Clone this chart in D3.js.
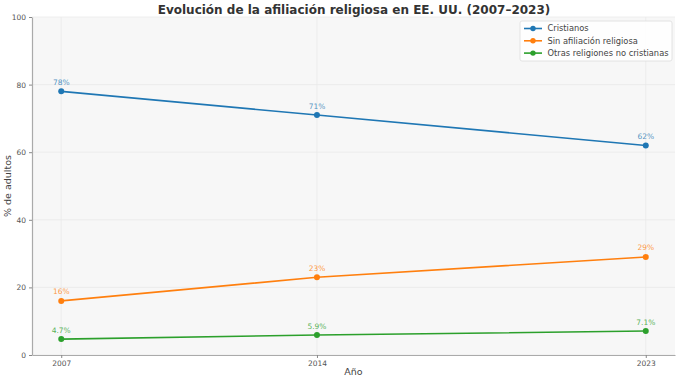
<!DOCTYPE html>
<html>
<head>
<meta charset="utf-8">
<script src="https://cdn.jsdelivr.net/npm/d3@7"></script>
<style>
  body { margin: 0; background: #fff; }
  text { font-family: "DejaVu Sans", sans-serif; }
</style>
</head>
<body>
<div id="chart"></div>
<script>
// Data
const years = [2007, 2014, 2023];
const seriesNames = ["Cristianos", "Sin afiliación religiosa", "Otras religiones no cristianas"];
const cristianos = [78, 71, 62];
const sinAfiliacion = [16, 23, 29];
const otras = [4.7, 5.9, 7.1];
const labelsCristianos = ["78%", "71%", "62%"];
const labelsSin = ["16%", "23%", "29%"];
const labelsOtras = ["4.7%", "5.9%", "7.1%"];
const yTicks = [0, 20, 40, 60, 80, 100];
const colors = ["#1f77b4", "#ff7f0e", "#2ca02c"];

const series = [
  {name: seriesNames[0], values: cristianos, labels: labelsCristianos, color: colors[0]},
  {name: seriesNames[1], values: sinAfiliacion, labels: labelsSin, color: colors[1]},
  {name: seriesNames[2], values: otras, labels: labelsOtras, color: colors[2]}
];

const W = 680, H = 381;
const margin = {top: 17, right: 5, bottom: 26, left: 32};
const width = W - margin.left - margin.right;
const height = H - margin.top - margin.bottom;

const svg = d3.select("#chart").append("svg")
  .attr("width", W)
  .attr("height", H);

const g = svg.append("g")
  .attr("transform", `translate(${margin.left},${margin.top})`);

// Scales (matplotlib-like 5% x margin)
const x = d3.scaleLinear()
  .domain([2006.2, 2023.8])
  .range([0, width]);

const y = d3.scaleLinear()
  .domain([0, 100])
  .range([height, 0]);

// Plot background
g.append("rect")
  .attr("width", width)
  .attr("height", height)
  .attr("fill", "#f7f7f7");

// Grid
g.append("g").selectAll("line")
  .data(yTicks)
  .enter().append("line")
  .attr("x1", 0).attr("x2", width)
  .attr("y1", d => y(d)).attr("y2", d => y(d))
  .attr("stroke", "#e8e8e8")
  .attr("stroke-width", 0.7);

g.append("g").selectAll("line")
  .data(years)
  .enter().append("line")
  .attr("x1", d => x(d)).attr("x2", d => x(d))
  .attr("y1", 0).attr("y2", height)
  .attr("stroke", "#e8e8e8")
  .attr("stroke-width", 0.7);

// Axes
const xAxis = g.append("g")
  .attr("transform", `translate(0,${height})`)
  .call(d3.axisBottom(x).tickValues(years).tickFormat(d3.format("d")).tickSize(3).tickSizeOuter(0));

const yAxis = g.append("g")
  .call(d3.axisLeft(y).tickValues(yTicks).tickSize(3).tickSizeOuter(0));

[xAxis, yAxis].forEach(a => {
  a.select(".domain").attr("stroke", "#aaa").attr("stroke-width", 1.2);
  a.selectAll(".tick line").attr("stroke", "#888");
  a.selectAll(".tick text")
    .attr("fill", "#555")
    .style("font-size", "7.5px")
    .style("font-family", "DejaVu Sans, sans-serif");
});
xAxis.selectAll(".tick text").attr("dy", "0.6em");

// Lines
const line = d3.line()
  .x((d, i) => x(years[i]))
  .y(d => y(d));

series.forEach(s => {
  g.append("path")
    .datum(s.values)
    .attr("fill", "none")
    .attr("stroke", s.color)
    .attr("stroke-width", 1.6)
    .attr("d", line);

  g.selectAll(null)
    .data(s.values)
    .enter().append("circle")
    .attr("cx", (d, i) => x(years[i]))
    .attr("cy", d => y(d))
    .attr("r", 3)
    .attr("fill", s.color);

  g.selectAll(null)
    .data(s.values)
    .enter().append("text")
    .attr("x", (d, i) => x(years[i]))
    .attr("y", d => y(d) - 6.5)
    .attr("text-anchor", "middle")
    .attr("fill", s.color)
    .attr("fill-opacity", 0.8)
    .style("font-size", "7.5px")
    .text((d, i) => s.labels[i]);
});

// Title
svg.append("text")
  .attr("x", 354)
  .attr("y", 14)
  .attr("text-anchor", "middle")
  .attr("fill", "#333")
  .style("font-size", "12px")
  .style("font-weight", "bold")
  .text("Evolución de la afiliación religiosa en EE. UU. (2007–2023)");

// Axis labels
svg.append("text")
  .attr("x", margin.left + width / 2)
  .attr("y", 375)
  .attr("text-anchor", "middle")
  .attr("fill", "#444")
  .style("font-size", "9.5px")
  .text("Año");

svg.append("text")
  .attr("transform", `translate(11,${margin.top + height / 2}) rotate(-90)`)
  .attr("text-anchor", "middle")
  .attr("fill", "#444")
  .style("font-size", "9.5px")
  .text("% de adultos");

// Legend
const legend = svg.append("g")
  .attr("transform", "translate(520,21)");

legend.append("rect")
  .attr("width", 152)
  .attr("height", 40)
  .attr("rx", 2)
  .attr("fill", "#fff")
  .attr("fill-opacity", 0.85)
  .attr("stroke", "#ddd")
  .attr("stroke-width", 0.8);

series.forEach((s, i) => {
  const row = legend.append("g")
    .attr("transform", `translate(0,${7.5 + i * 12.3})`);
  row.append("line")
    .attr("x1", 4).attr("x2", 22)
    .attr("stroke", s.color)
    .attr("stroke-width", 1.6);
  row.append("circle")
    .attr("cx", 13)
    .attr("r", 2.7)
    .attr("fill", s.color);
  row.append("text")
    .attr("x", 27.5)
    .attr("dy", "0.35em")
    .attr("fill", "#444")
    .style("font-size", "8.3px")
    .text(s.name);
});
</script>
</body>
</html>
